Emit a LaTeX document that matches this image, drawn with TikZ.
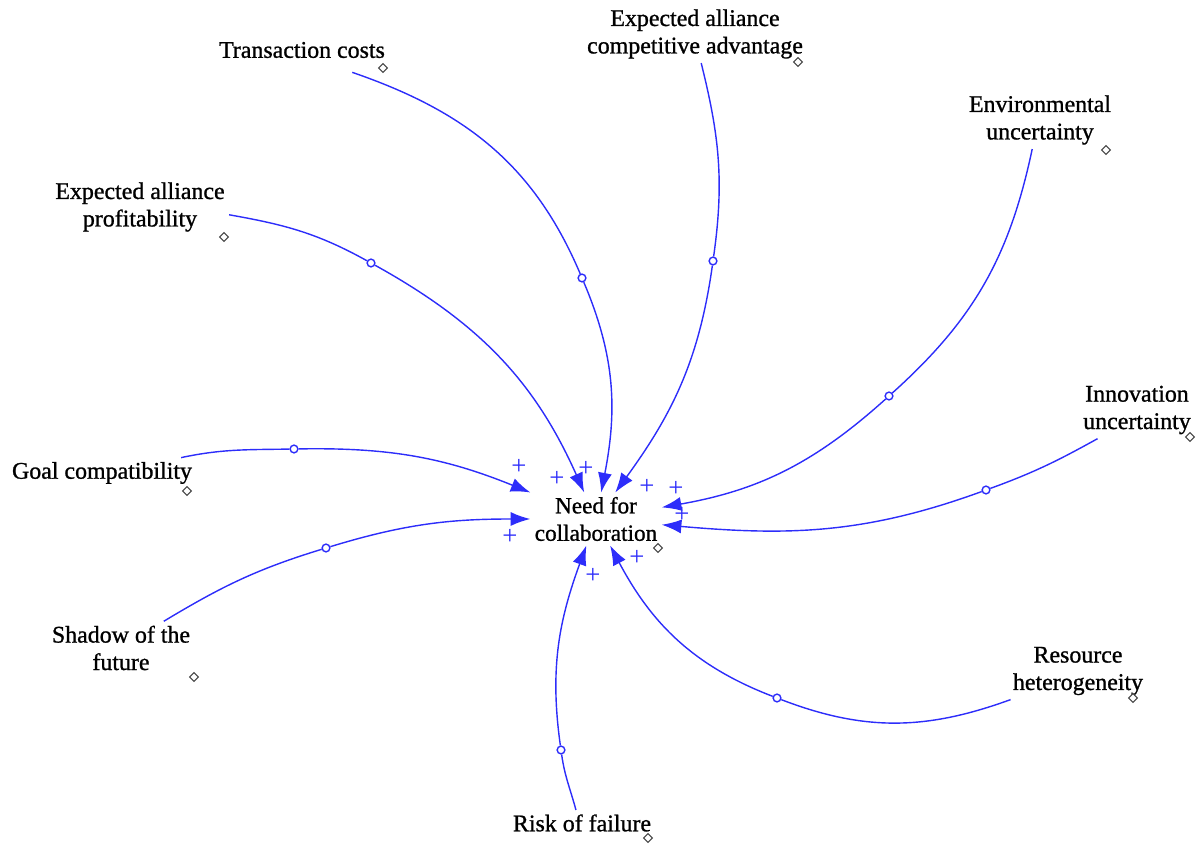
\documentclass[tikz,border=0pt]{standalone}
\usepackage{fontspec}
\setmainfont{Liberation Serif}
\newfontfamily\varfont{Liberation Serif}[FakeBold=1]
\usetikzlibrary{arrows.meta,shapes.geometric}
\definecolor{linkblue}{RGB}{45,45,250}
\definecolor{handlegray}{RGB}{70,70,70}
\tikzset{
  var/.style={align=center, inner sep=3pt, font=\varfont\fontsize{17}{19.5}\selectfont},
  handle/.style={diamond, draw=handlegray, fill=white, line width=0.8pt,
                 minimum size=6.5pt, inner sep=0pt},
  link/.style={draw=linkblue, line width=1pt, -{Latex[length=14pt,width=10pt]}},
  mid/.style={circle, draw=linkblue, fill=white, line width=1pt,
              minimum size=5.5pt, inner sep=0pt},
  pol/.style={text=linkblue, inner sep=0pt, font=\fontsize{19}{19}\selectfont}
}

\begin{document}
\begin{tikzpicture}[x=0.025cm, y=0.025cm]
  \useasboundingbox (0,0) rectangle (1203,848);

  % variables
  \node[var, font=\varfont\fontsize{16.5}{19.5}\selectfont] (need) at (596,329) {Need for\\collaboration};
  \node[var] (tc) at (302,798) {Transaction costs};
  \node[var] (eacp) at (695,814) {Expected alliance\\competitive advantage};
  \node[var] (env) at (1040,728) {Environmental\\uncertainty};
  \node[var] (eap) at (140,641) {Expected alliance\\profitability};
  \node[var] (goal) at (102,375) {Goal compatibility};
  \node[var] (inno) at (1137,438) {Innovation\\uncertainty};
  \node[var] (shadow) at (121,200) {Shadow of the\\future};
  \node[var] (res) at (1078,177) {Resource\\heterogeneity};
  \node[var] (risk) at (582,25) {Risk of failure};

  % handles
  \node[handle] (need-h) at (658,300) {};
  \node[handle] (tc-h) at (383,780) {};
  \node[handle] (eacp-h) at (798,786) {};
  \node[handle] (env-h) at (1106,698) {};
  \node[handle] (eap-h) at (224,611) {};
  \node[handle] (goal-h) at (187,357) {};
  \node[handle] (inno-h) at (1190,411) {};
  \node[handle] (shadow-h) at (194,171) {};
  \node[handle] (res-h) at (1133,150) {};
  \node[handle] (risk-h) at (648,10) {};

  % link midpoints
  \node[mid] (tc-m) at (582,570) {};
  \node[mid] (eacp-m) at (713,587) {};
  \node[mid] (env-m) at (889,452) {};
  \node[mid] (eap-m) at (371,585) {};
  \node[mid] (goal-m) at (294,399) {};
  \node[mid] (inno-m) at (986,358) {};
  \node[mid] (shadow-m) at (326,300) {};
  \node[mid] (res-m) at (777,150) {};
  \node[mid] (risk-m) at (561,98) {};

  % links
  \draw[link] ([yshift=-7pt]tc.-14) to[out=-19,in=113] (tc-m) to[out=-67,in=79] (need);
  \draw[link] (eacp.-78) to[out=-76,in=82] (eacp-m) to[out=-98,in=54] (need);
  \draw[link] (env.-105) to[out=-102,in=42] (env-m) to[out=-138,in=10] (need);
  \draw[link] (eap.-5) to[out=-10,in=151] (eap-m) to[out=-29,in=114] (need);
  \draw[link] (goal.11) to[out=12,in=-179] (goal-m) to[out=1,in=158] (need);
  \draw[link] (inno.216) to[out=209,in=20] (inno-m) to[out=200,in=-5] (need);
  \draw[link] (shadow.32) to[out=31,in=197] (shadow-m) to[out=17,in=180] (need);
  \draw[link] (res.203) to[out=200,in=-21] (res-m) to[out=159,in=-62] (need);
  \draw[link] (risk.115) to[out=105,in=-82] (risk-m) to[out=98,in=-110] (need);

  % polarities
  \node[pol] (p1) at (519,381) {+};
  \node[pol] (p2) at (557,369) {+};
  \node[pol] (p3) at (586,379) {+};
  \node[pol] (p4) at (647,361) {+};
  \node[pol] (p5) at (676,359) {+};
  \node[pol] (p6) at (682,333) {+};
  \node[pol] (p7) at (510,311) {+};
  \node[pol] (p8) at (593,272) {+};
  \node[pol] (p9) at (637,290) {+};
\end{tikzpicture}
\end{document}
